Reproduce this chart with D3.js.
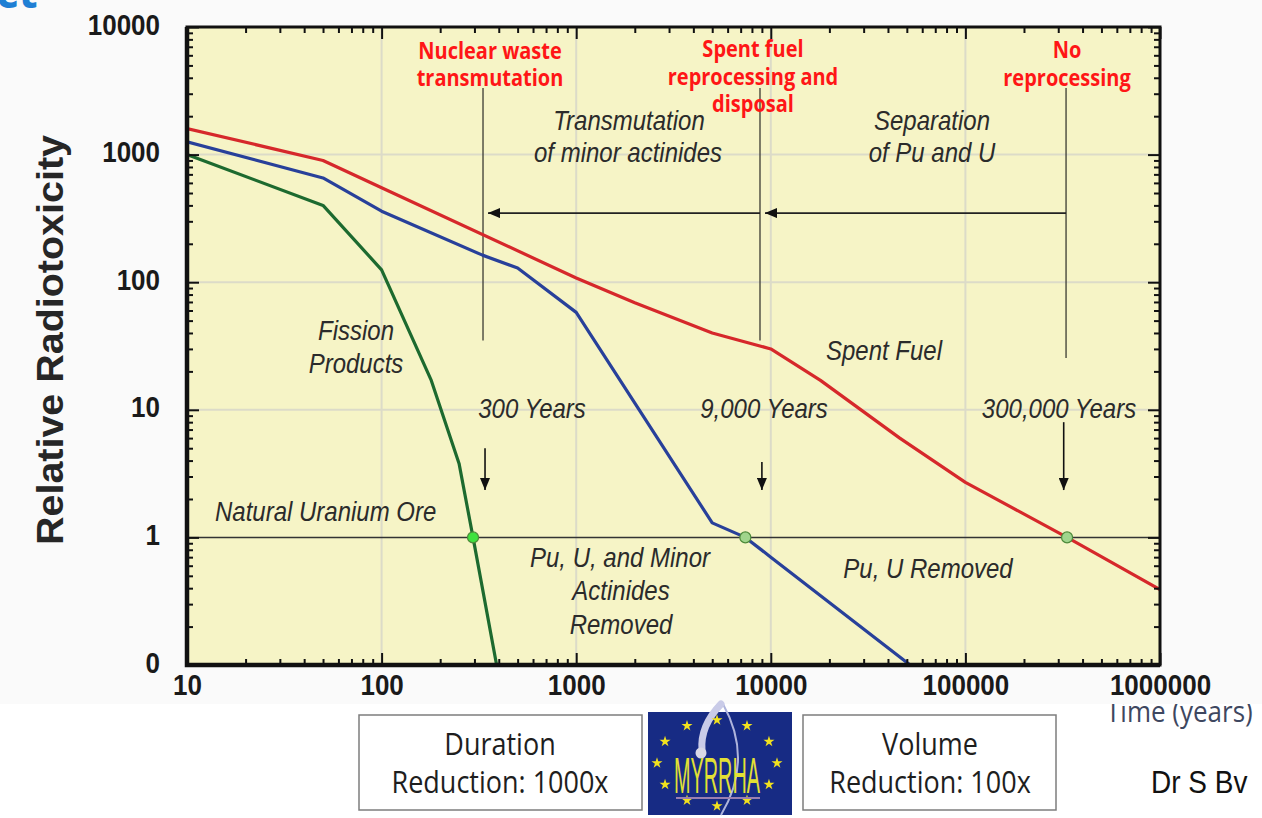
<!DOCTYPE html>
<html>
<head>
<meta charset="utf-8">
<script src="https://cdn.jsdelivr.net/npm/d3@7"></script>
<style>
  html, body { margin: 0; padding: 0; background: #fff; }
  svg { display: block; }
</style>
</head>
<body>
<div id="chart"></div>
<script>
// values (years -> relative radiotoxicity)
var spentYears = [10, 50, 100, 1000, 2000, 5000, 10000, 18000, 46000, 100000, 333000, 1000000];
var spentTox   = [1600, 900, 550, 108, 69, 40, 30, 17, 6.0, 2.7, 1.0, 0.39];

var puuYears = [10, 50, 100, 330, 500, 1000, 5000, 7400, 10000, 52000];
var puuTox   = [1260, 656, 360, 163, 129, 58, 1.3, 1.0, 0.70, 0.1];

var fissionYears = [10, 50, 100, 180, 250, 295, 390];
var fissionTox   = [1000, 400, 125, 17, 3.8, 1.0, 0.1];

// where each curve meets the natural uranium ore level
var crossYears = [295, 7400, 333000];
var crossFill  = ['#3fe23f', '#a0d58c', '#a0d58c'];

var yTicks  = [0.1, 1, 10, 100, 1000, 10000];
var yLabels = ['0', '1', '10', '100', '1000', '10000'];
var xTicks  = [10, 100, 1000, 10000, 100000, 1000000];
var xLabels = ['10', '100', '1000', '10000', '100000', '1000000'];

// reprocessing stages (vertical markers) and the arrows between them
var stageYears  = [332, 8800, 329000];
var stageTop    = 3330;
var stageBottom = [35, 35, 25.5];
var arrowLevel  = 348;
var downYears   = [340, 9000, 320000];
var downFrom    = [5.0, 3.9, 8.0];
var downTo      = 2.35;

(function () {
  var width = 1262, height = 818;
  var SY = 1.12; // the source picture is a little stretched vertically

  var svg = d3.select('#chart').append('svg')
    .attr('width', width).attr('height', height);

  var x = d3.scaleLog().domain([10, 1e6]).range([187, 1160]);
  var y = d3.scaleLog().domain([0.1, 1e4]).range([665, 27]);
  var x0 = x.range()[0], x1 = x.range()[1], yb = y.range()[0], yt = y.range()[1];

  var sans = "'Liberation Sans', Arial, sans-serif";
  var open = "'Open Sans', 'Noto Sans', sans-serif";

  function put(g, px, py, str, o) {
    return g.append('text')
      .attr('transform', 'translate(' + px + ',' + py + ') scale(1,' + SY + ')')
      .attr('text-anchor', o.anchor || 'middle')
      .attr('font-family', o.family || sans)
      .attr('font-size', o.size || 24)
      .attr('font-weight', o.weight || 'normal')
      .attr('font-style', o.style || 'normal')
      .attr('fill', o.fill || '#222')
      .text(str);
  }

  svg.append('rect').attr('width', width).attr('height', height).attr('fill', '#fff');

  // axis caption partly hidden under the chart picture
  put(svg, 1106, 722, 'Time (years)', {anchor: 'start', family: open, size: 26, fill: '#3e4760'});

  svg.append('rect').attr('width', width).attr('height', 704).attr('fill', '#fafafa');

  // cut off heading fragment in the corner
  svg.append('text').attr('x', -4).attr('y', 8)
    .attr('font-family', open).attr('font-weight', 'bold').attr('font-size', 44)
    .attr('fill', '#1f7fd4').text('ct');

  // plot background + grid
  svg.append('rect').attr('x', x0).attr('y', yt)
    .attr('width', x1 - x0).attr('height', yb - yt).attr('fill', '#f6f4c6');

  svg.append('g').selectAll('line').data(xTicks.slice(1, -1)).join('line')
    .attr('x1', x).attr('x2', x).attr('y1', yt).attr('y2', yb)
    .attr('stroke', '#dcdbc8').attr('stroke-width', 2);
  svg.append('g').selectAll('line').data([10, 100, 1000]).join('line')
    .attr('x1', x0).attr('x2', x1).attr('y1', y).attr('y2', y)
    .attr('stroke', '#dcdbc8').attr('stroke-width', 2);

  // natural uranium ore level
  svg.append('line').attr('x1', x0).attr('x2', x1).attr('y1', y(1)).attr('y2', y(1))
    .attr('stroke', '#333').attr('stroke-width', 1.5);

  // stage markers and arrows
  var defs = svg.append('defs');
  defs.append('marker').attr('id', 'head').attr('viewBox', '0 0 12 10')
    .attr('refX', 12).attr('refY', 5).attr('markerWidth', 12).attr('markerHeight', 10)
    .attr('markerUnits', 'userSpaceOnUse').attr('orient', 'auto')
    .append('path').attr('d', 'M0,0L12,5L0,10Z').attr('fill', '#111');
  defs.append('clipPath').attr('id', 'plotclip').append('rect')
    .attr('x', x0).attr('y', yt).attr('width', x1 - x0).attr('height', yb - yt);

  var ann = svg.append('g');
  stageYears.forEach(function (t, i) {
    ann.append('line').attr('x1', x(t)).attr('x2', x(t))
      .attr('y1', y(stageTop)).attr('y2', y(stageBottom[i]))
      .attr('stroke', '#3a3a32').attr('stroke-width', 1.3);
  });
  [[2, 1], [1, 0]].forEach(function (p) {
    ann.append('line')
      .attr('x1', x(stageYears[p[0]])).attr('x2', x(stageYears[p[1]]) + 5)
      .attr('y1', y(arrowLevel)).attr('y2', y(arrowLevel))
      .attr('stroke', '#222').attr('stroke-width', 1.6).attr('marker-end', 'url(#head)');
  });
  downYears.forEach(function (t, i) {
    ann.append('line').attr('x1', x(t)).attr('x2', x(t))
      .attr('y1', y(downFrom[i])).attr('y2', y(downTo))
      .attr('stroke', '#111').attr('stroke-width', 1.6).attr('marker-end', 'url(#head)');
  });

  // curves
  var line = d3.line().x(function (d) { return x(d[0]); }).y(function (d) { return y(d[1]); });
  var curves = svg.append('g').attr('clip-path', 'url(#plotclip)')
    .attr('fill', 'none').attr('stroke-width', 3.2).attr('stroke-linejoin', 'round');
  curves.append('path').datum(d3.zip(fissionYears, fissionTox)).attr('d', line).attr('stroke', '#1d6a2f');
  curves.append('path').datum(d3.zip(puuYears, puuTox)).attr('d', line).attr('stroke', '#28409a');
  curves.append('path').datum(d3.zip(spentYears, spentTox)).attr('d', line).attr('stroke', '#d6282b');

  svg.append('g').selectAll('circle').data(crossYears).join('circle')
    .attr('cx', x).attr('cy', y(1)).attr('r', 5.5)
    .attr('fill', function (d, i) { return crossFill[i]; })
    .attr('stroke', '#4d8a3a').attr('stroke-width', 1.2);

  // chart texts
  var it = {style: 'italic', size: 24, fill: '#2b2b2b'};
  put(svg, 629, 130, 'Transmutation', it);
  put(svg, 628, 162, 'of minor actinides', it);
  put(svg, 932, 130, 'Separation', it);
  put(svg, 932, 162, 'of Pu and U', it);
  put(svg, 356, 340, 'Fission', it);
  put(svg, 356, 373, 'Products', it);
  put(svg, 884, 360, 'Spent Fuel', it);
  put(svg, 532, 418, '300 Years', it);
  put(svg, 764, 418, '9,000 Years', it);
  put(svg, 1059, 418, '300,000 Years', it);
  put(svg, 215, 521, 'Natural Uranium Ore', {style: 'italic', size: 24, fill: '#2b2b2b', anchor: 'start'});
  put(svg, 620, 567, 'Pu, U,  and Minor', it);
  put(svg, 621, 600, 'Actinides', it);
  put(svg, 621, 634, 'Removed', it);
  put(svg, 928, 578, 'Pu, U Removed', it);

  var red = {family: open, weight: 'bold', size: 20, fill: '#ff1616'};
  put(svg, 490, 59, 'Nuclear waste', red);
  put(svg, 490, 86, 'transmutation', red);
  put(svg, 753, 57, 'Spent fuel', red);
  put(svg, 753, 85, 'reprocessing and', red);
  put(svg, 753, 112, 'disposal', red);
  put(svg, 1067, 58, 'No', red);
  put(svg, 1067, 86, 'reprocessing', red);

  // ticks: major + minor, inward on all four sides
  var minor = [];
  for (var p = 0.1; p < 1e6; p *= 10) for (var k = 2; k < 10; k++) minor.push(p * k);
  var xMinor = minor.filter(function (v) { return v > 10 && v < 1e6; });
  var yMinor = minor.filter(function (v) { return v > 0.1 && v < 1e4; });

  function ticks(axis, vals, size, tr) {
    var g = svg.append('g').attr('transform', tr)
      .call(axis.tickValues(vals).tickFormat('').tickSizeInner(-size).tickSizeOuter(0));
    g.select('.domain').remove();
    g.selectAll('text').remove();
    g.selectAll('line').attr('stroke', '#111').attr('stroke-width', 2);
  }
  ticks(d3.axisBottom(x), xTicks, 12, 'translate(0,' + yb + ')');
  ticks(d3.axisBottom(x), xMinor, 6, 'translate(0,' + yb + ')');
  ticks(d3.axisTop(x), xTicks, 12, 'translate(0,' + yt + ')');
  ticks(d3.axisTop(x), xMinor, 6, 'translate(0,' + yt + ')');
  ticks(d3.axisLeft(y), yTicks, 12, 'translate(' + x0 + ',0)');
  ticks(d3.axisLeft(y), yMinor, 6, 'translate(' + x0 + ',0)');
  ticks(d3.axisRight(y), yTicks, 12, 'translate(' + x1 + ',0)');
  ticks(d3.axisRight(y), yMinor, 6, 'translate(' + x1 + ',0)');

  // frame
  svg.append('rect').attr('x', x0).attr('y', yt).attr('width', x1 - x0).attr('height', yb - yt)
    .attr('fill', 'none').attr('stroke', '#111').attr('stroke-width', 3);
  svg.append('path').attr('d', 'M' + x0 + ',' + yt + 'V' + yb + 'H' + x1)
    .attr('fill', 'none').attr('stroke', '#111').attr('stroke-width', 4.5);

  // tick labels
  var gx = svg.append('g').attr('transform', 'translate(0,' + yb + ')')
    .call(d3.axisBottom(x).tickValues(xTicks).tickFormat(function (d, i) { return xLabels[i]; }).tickSize(0));
  gx.select('.domain').remove();
  gx.selectAll('text').attr('y', 0).attr('dy', null)
    .attr('transform', 'translate(0,30) scale(1,' + SY + ')')
    .attr('font-family', sans).attr('font-weight', 'bold').attr('font-size', 26).attr('fill', '#1a1a1a');

  var gy = svg.append('g').attr('transform', 'translate(' + x0 + ',0)')
    .call(d3.axisLeft(y).tickValues(yTicks).tickFormat(function (d, i) { return yLabels[i]; }).tickSize(0));
  gy.select('.domain').remove();
  gy.selectAll('text').attr('x', 0).attr('dy', null)
    .attr('transform', 'translate(-27,7) scale(1,' + SY + ')')
    .attr('font-family', sans).attr('font-weight', 'bold').attr('font-size', 26).attr('fill', '#1a1a1a');

  svg.append('text').attr('transform', 'translate(63,340) rotate(-90)')
    .attr('text-anchor', 'middle').attr('font-family', sans).attr('font-weight', 'bold')
    .attr('font-size', 36).attr('textLength', 410).attr('lengthAdjust', 'spacingAndGlyphs')
    .attr('fill', '#262626').text('Relative Radiotoxicity');

  // boxes under the chart
  var boxText = {family: open, size: 27, fill: '#1e1e1e'};
  svg.append('rect').attr('x', 359).attr('y', 715).attr('width', 283).attr('height', 95)
    .attr('fill', '#fff').attr('stroke', '#7d7d7d').attr('stroke-width', 1.5);
  put(svg, 500, 755, 'Duration', boxText);
  put(svg, 500, 793, 'Reduction: 1000x', boxText);
  svg.append('rect').attr('x', 803).attr('y', 715).attr('width', 253).attr('height', 95)
    .attr('fill', '#fff').attr('stroke', '#7d7d7d').attr('stroke-width', 1.5);
  put(svg, 930, 755, 'Volume', boxText);
  put(svg, 930, 793, 'Reduction: 100x', boxText);

  // MYRRHA logo
  var logo = svg.append('g');
  logo.append('rect').attr('x', 648).attr('y', 712).attr('width', 144).attr('height', 103).attr('fill', '#172b84');
  logo.append('path').attr('d', 'M723,704 Q754,760 721,815').attr('fill', 'none')
    .attr('stroke', '#aeb4dc').attr('stroke-width', 2);
  logo.append('path').attr('d', 'M721,704 Q700,726 702,750').attr('fill', 'none')
    .attr('stroke', '#c9cbe8').attr('stroke-width', 7).attr('stroke-linecap', 'round');
  logo.append('circle').attr('cx', 701).attr('cy', 753).attr('r', 5.5).attr('fill', '#d8d8e6');
  var star = d3.symbol().type(d3.symbolStar).size(38);
  d3.range(12).forEach(function (i) {
    var a = i / 12 * 2 * Math.PI;
    logo.append('path').attr('d', star)
      .attr('transform', 'translate(' + (717 + 60 * Math.sin(a)) + ',' + (763 - 43 * Math.cos(a)) + ')')
      .attr('fill', '#f2e21e');
  });
  logo.append('line').attr('x1', 676).attr('x2', 760).attr('y1', 798).attr('y2', 798)
    .attr('stroke', '#9b7fb0').attr('stroke-width', 2);
  logo.append('text').attr('transform', 'translate(717,793) scale(1,' + SY + ')')
    .attr('text-anchor', 'middle').attr('font-family', sans).attr('font-size', 44)
    .attr('textLength', 86).attr('lengthAdjust', 'spacingAndGlyphs')
    .attr('fill', '#e2e034').text('MYRRHA');

  put(svg, 1151, 793, 'Dr S Bv', {anchor: 'start', size: 28, fill: '#111'});
})();
</script>
</body>
</html>
